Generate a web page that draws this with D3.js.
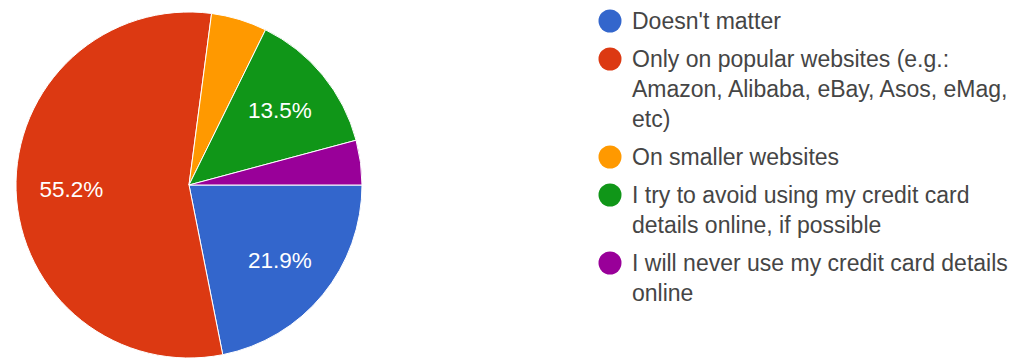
<!DOCTYPE html>
<html>
<head>
<meta charset="utf-8">
<script src="https://cdn.jsdelivr.net/npm/d3@7"></script>
<style>
  html, body { margin: 0; padding: 0; background: #fff; }
  svg { display: block; font-family: Arial, "Liberation Sans", sans-serif; }
</style>
</head>
<body>
<svg id="chart" width="1030" height="358"></svg>
<script>
// Responses per option (n = 96)
const categories = [
  "Doesn't matter",
  "Only on popular websites (e.g.: Amazon, Alibaba, eBay, Asos, eMag, etc)",
  "On smaller websites",
  "I try to avoid using my credit card details online, if possible",
  "I will never use my credit card details online"
];
const counts = [21, 53, 5, 13, 4];
const colors = ["#3366cc", "#dc3912", "#ff9900", "#109618", "#990099"];
// Legend text broken into lines as shown
const legendLines = [
  ["Doesn't matter"],
  ["Only on popular websites (e.g.:", "Amazon, Alibaba, eBay, Asos, eMag,", "etc)"],
  ["On smaller websites"],
  ["I try to avoid using my credit card", "details online, if possible"],
  ["I will never use my credit card details", "online"]
];

const svg = d3.select("#chart");
const cx = 189, cy = 185, r = 173;

const total = d3.sum(counts);
const data = categories.map((c, i) => ({ name: c, value: counts[i], color: colors[i] }));

const pie = d3.pie()
  .value(d => d.value)
  .sort(null)
  .startAngle(Math.PI / 2)
  .endAngle(Math.PI / 2 + 2 * Math.PI);

const arc = d3.arc().innerRadius(0).outerRadius(r);
const labelArc = d3.arc().innerRadius(r * 0.68).outerRadius(r * 0.68);

const g = svg.append("g").attr("transform", `translate(${cx},${cy})`);
const arcs = pie(data);

g.selectAll("path.slice")
  .data(arcs)
  .join("path")
  .attr("class", "slice")
  .attr("d", arc)
  .attr("fill", d => d.data.color)
  .attr("stroke", "#fff")
  .attr("stroke-width", 1);

const fmt = d3.format(".1%");
g.selectAll("text.pct")
  .data(arcs.filter(d => d.data.value / total > 0.1))
  .join("text")
  .attr("class", "pct")
  .attr("transform", d => `translate(${labelArc.centroid(d)})`)
  .attr("text-anchor", "middle")
  .attr("dy", "0.36em")
  .attr("fill", "#fff")
  .attr("font-size", 22.5)
  .text(d => fmt(d.data.value / total));

// Legend
const lx = 610, lineH = 30, gap = 8;
let y = 21;
const legend = svg.append("g");
data.forEach((d, i) => {
  const item = legend.append("g").attr("transform", `translate(0,${y})`);
  item.append("circle")
    .attr("cx", lx).attr("cy", 0).attr("r", 11.5)
    .attr("fill", d.color);
  legendLines[i].forEach((line, j) => {
    item.append("text")
      .attr("x", lx + 22)
      .attr("y", j * lineH)
      .attr("dy", "0.35em")
      .attr("fill", "#454545")
      .attr("font-size", 23)
      .text(line);
  });
  y += legendLines[i].length * lineH + gap;
});
</script>
</body>
</html>
